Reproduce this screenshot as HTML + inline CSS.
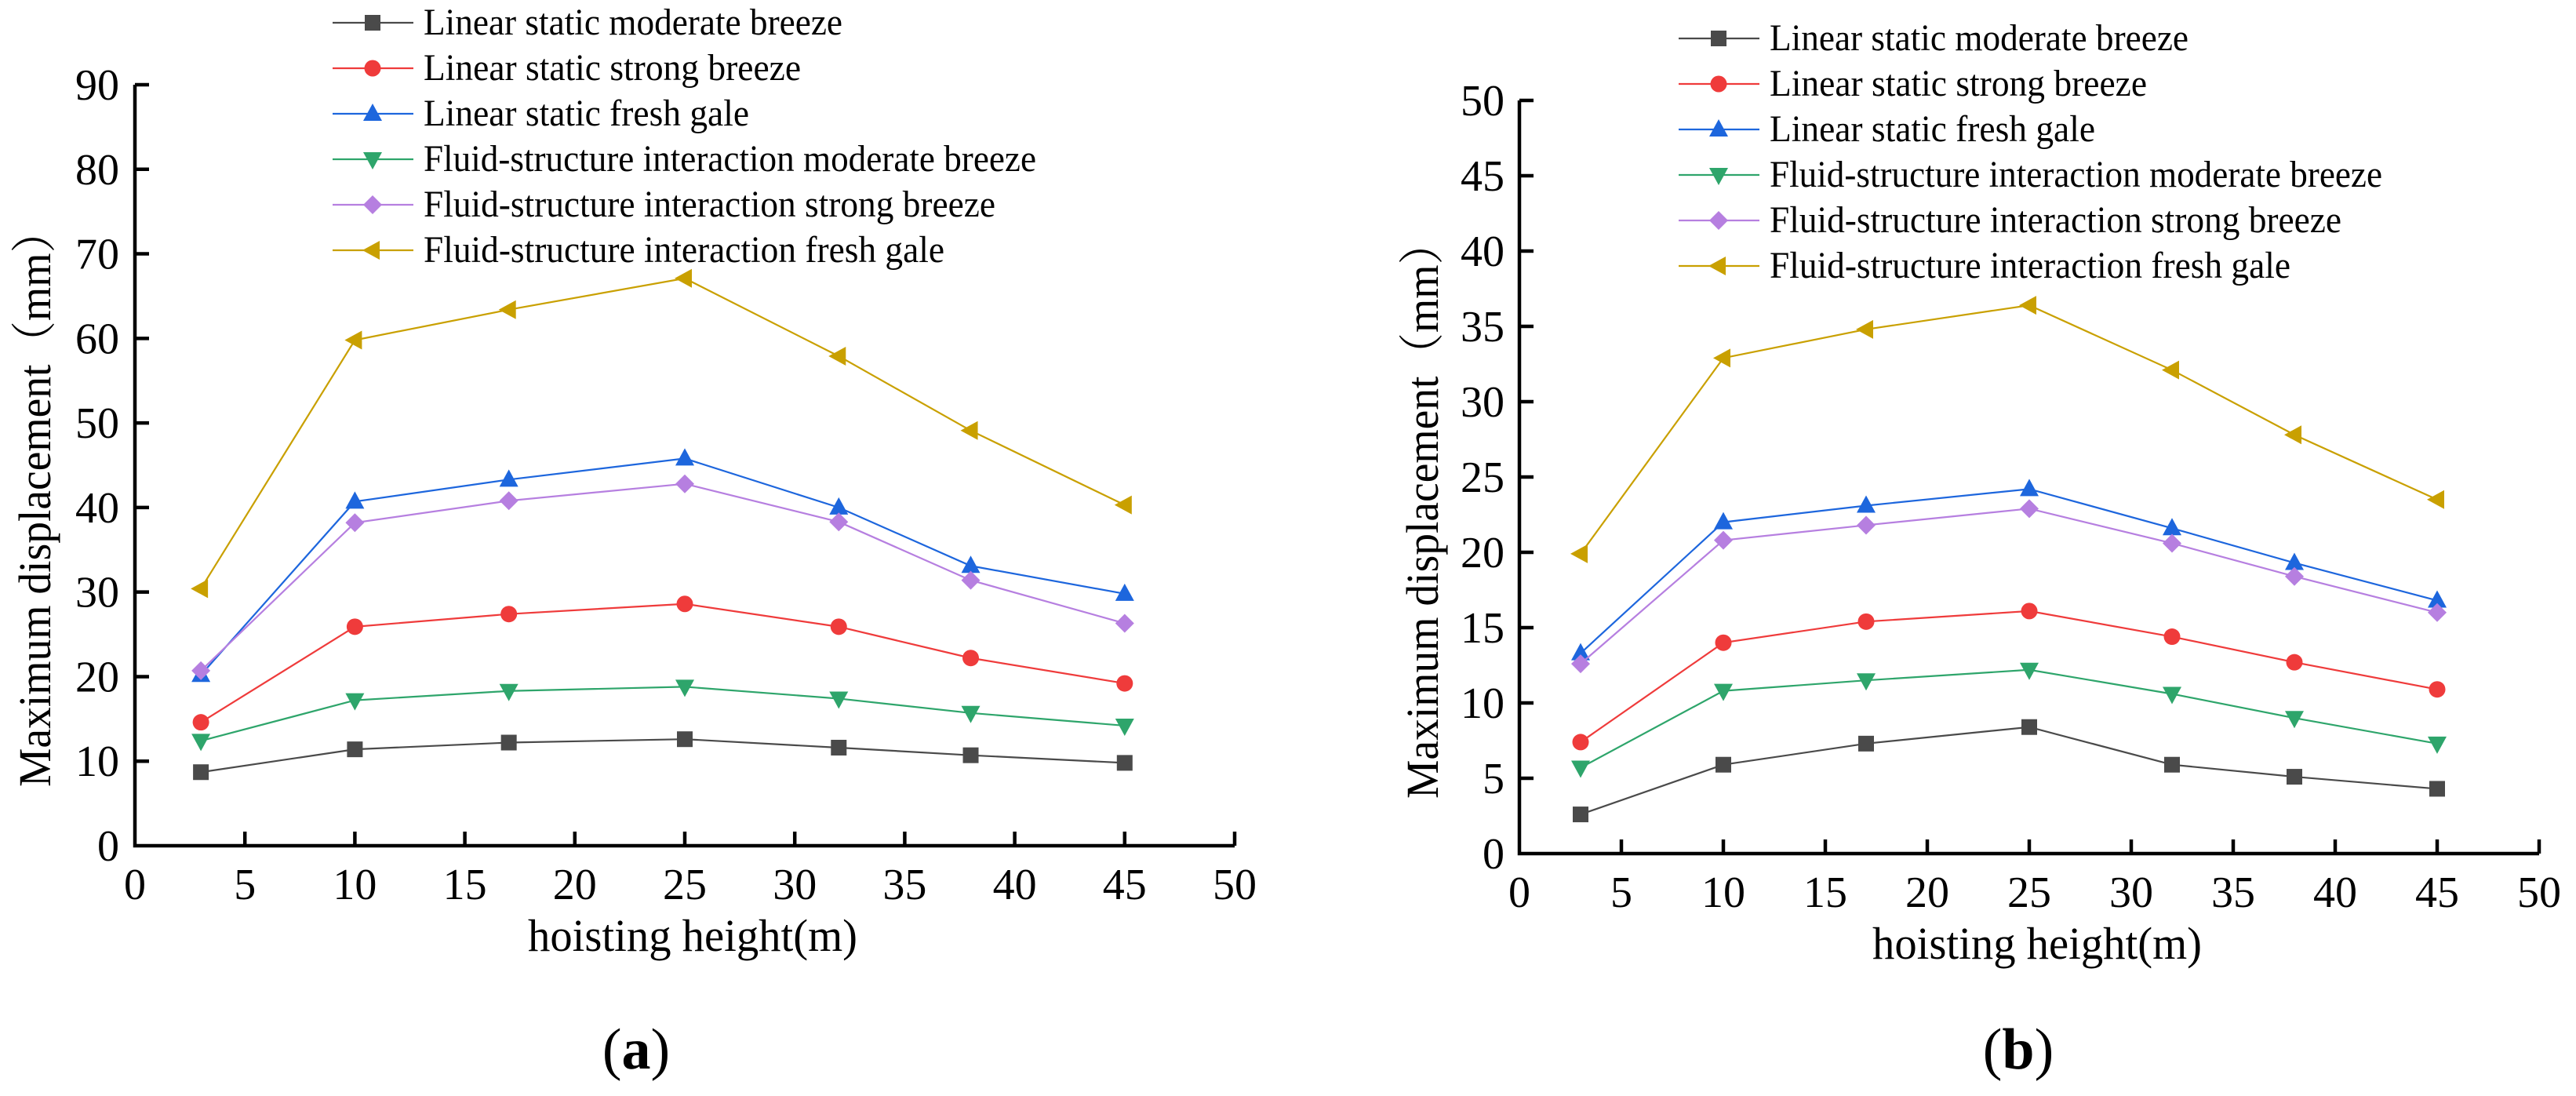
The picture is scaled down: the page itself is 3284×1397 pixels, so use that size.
<!DOCTYPE html>
<html><head><meta charset="utf-8"><style>
html,body{margin:0;padding:0;background:#fff;}
svg{display:block;}
text{font-family:"Liberation Serif","Noto Serif CJK SC",serif;fill:#000;}
</style></head><body>
<svg id="fig" width="3284" height="1397" viewBox="0 0 3284 1397" xmlns="http://www.w3.org/2000/svg"></svg>
<script>
const xValues=[3,10,17,25,32,38,45];
const seriesNames=["Linear static moderate breeze","Linear static strong breeze","Linear static fresh gale","Fluid-structure interaction moderate breeze","Fluid-structure interaction strong breeze","Fluid-structure interaction fresh gale"];
const aModerate=[8.7,11.4,12.2,12.6,11.6,10.7,9.8];
const aStrong=[14.6,25.9,27.4,28.6,25.9,22.2,19.2];
const aGale=[20.2,40.7,43.3,45.8,40.0,33.1,29.8];
const aFsiModerate=[12.4,17.2,18.3,18.8,17.4,15.7,14.2];
const aFsiStrong=[20.7,38.2,40.8,42.8,38.3,31.4,26.3];
const aFsiGale=[30.4,59.8,63.4,67.1,57.9,49.1,40.3];
const bModerate=[2.6,5.9,7.3,8.4,5.9,5.1,4.3];
const bStrong=[7.4,14.0,15.4,16.1,14.4,12.7,10.9];
const bGale=[13.3,22.0,23.1,24.2,21.6,19.3,16.8];
const bFsiModerate=[5.7,10.8,11.5,12.2,10.6,9.0,7.3];
const bFsiStrong=[12.6,20.8,21.8,22.9,20.6,18.4,16.0];
const bFsiGale=[19.9,32.9,34.8,36.4,32.1,27.8,23.5];
const xTicks=[0,5,10,15,20,25,30,35,40,45,50];
const aYTicks=[0,10,20,30,40,50,60,70,80,90];
const bYTicks=[0,5,10,15,20,25,30,35,40,45,50];

const colors=["#4a4a4a","#ef3b3b","#1d66dd","#2ea56b","#b67fe0","#c9a000"];
const markers=["square","circle","up","down","diamond","left"];
const legendWidths=[534,481,415,781,729,664];
const NS="http://www.w3.org/2000/svg";
const svg=document.getElementById('fig');
function mk(tag,attrs,parent){const e=document.createElementNS(NS,tag);for(const k in attrs)e.setAttribute(k,attrs[k]);(parent||svg).appendChild(e);return e;}
function marker(g,type,x,y,c){
  let e;
  if(type==="square")e=mk('rect',{x:x-10,y:y-10,width:20,height:20,fill:c},g);
  else if(type==="circle")e=mk('circle',{cx:x,cy:y,r:10.5,fill:c},g);
  else if(type==="up")e=mk('polygon',{points:`${x},${y-13} ${x+12},${y+9} ${x-12},${y+9}`,fill:c},g);
  else if(type==="down")e=mk('polygon',{points:`${x},${y+13} ${x+12},${y-9} ${x-12},${y-9}`,fill:c},g);
  else if(type==="diamond")e=mk('polygon',{points:`${x},${y-12} ${x+12},${y} ${x},${y+12} ${x-12},${y}`,fill:c},g);
  else e=mk('polygon',{points:`${x-13},${y} ${x+9},${y-12} ${x+9},${y+12}`,fill:c},g);
  
  
}
function chart(cfg){
  const g=mk('g',{});
  
  
  const X=v=>cfg.x0+(v-0)/50*(cfg.x1-cfg.x0);
  const Y=v=>cfg.y0-(v/cfg.ymax)*(cfg.y0-cfg.y1);
  const ax=mk('path',{d:`M${cfg.x0},${cfg.y1} V${cfg.y0} H${cfg.x1}`,fill:'none',stroke:'#000','stroke-width':4.5},g);
  
  
  cfg.yTicks.forEach(v=>{
    const y=Y(v);
    if(v>0){const t=mk('line',{x1:cfg.x0,x2:cfg.x0+18,y1:y,y2:y,stroke:'#000','stroke-width':4.5},g);}
    const tl=mk('text',{x:cfg.ylabX,y:y+19,'font-size':56,'text-anchor':'end'},g);tl.textContent=v;
    
    
  });
  xTicks.forEach(v=>{
    const x=X(v);
    if(v>0){const t=mk('line',{x1:x,x2:x,y1:cfg.y0,y2:cfg.y0-18,stroke:'#000','stroke-width':4.5},g);}
    const tl=mk('text',{x:x,y:cfg.y0+68,'font-size':56,'text-anchor':'middle'},g);tl.textContent=v;
    
    
  });
  cfg.series.forEach((vals,i)=>{
    const sg=mk('g',{},g);
    
    
    const pts=vals.map((v,j)=>X(xValues[j])+','+Y(v)).join(' ');
    mk('polyline',{points:pts,fill:'none',stroke:colors[i],'stroke-width':2.2},sg);
    vals.forEach((v,j)=>marker(sg,markers[i],X(xValues[j]),Y(v),colors[i]));
  });
  seriesNames.forEach((n,i)=>{
    const ly=cfg.legY+i*58;
    const lg=mk('g',{},g);
    
    
    mk('line',{x1:cfg.legX,x2:cfg.legX+103,y1:ly,y2:ly,stroke:colors[i],'stroke-width':2.2},lg);
    marker(lg,markers[i],cfg.legX+51,ly,colors[i]);
    const t=mk('text',{x:cfg.legX+116,y:ly+15,'font-size':48,textLength:legendWidths[i],lengthAdjust:'spacingAndGlyphs'},lg);
    t.textContent=n;
  });
  const xt=mk('text',{x:(cfg.x0+cfg.x1)/2+10,y:cfg.y0+134,'font-size':58,'text-anchor':'middle',textLength:420,lengthAdjust:'spacingAndGlyphs'},g);
  xt.textContent='hoisting height(m)';
  
  
  const yt=mk('text',{x:0,y:0,'font-size':58,'text-anchor':'middle',textLength:736,lengthAdjust:'spacingAndGlyphs',transform:`translate(${cfg.ytX},${cfg.ytY}) rotate(-90)`},g);
  yt.textContent='Maximum displacement（mm）';
  
  
  const cap=mk('text',{x:cfg.capX,y:1362,'font-size':74,'text-anchor':'middle'},g);
  cap.innerHTML='(<tspan font-weight="bold">'+cfg.cap+'</tspan>)';
  
  
}
chart({name:'chart-a',x0:172,x1:1574,y0:1078,y1:108,ymax:90,yTicks:aYTicks,ylabX:152,
  series:[aModerate,aStrong,aGale,aFsiModerate,aFsiStrong,aFsiGale],legX:424,legY:29,ytX:64,ytY:635,capX:811,cap:'a'});
chart({name:'chart-b',x0:1937,x1:3237,y0:1088,y1:128,ymax:50,yTicks:bYTicks,ylabX:1918,
  series:[bModerate,bStrong,bGale,bFsiModerate,bFsiStrong,bFsiGale],legX:2140,legY:49,ytX:1833,ytY:650,capX:2573,cap:'b'});
</script>
</body></html>
